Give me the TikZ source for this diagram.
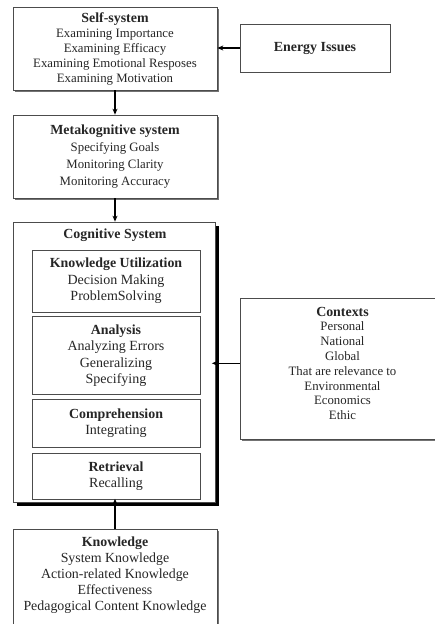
\documentclass[tikz,border=0pt]{standalone}
\usepackage{fontspec}
\setmainfont{Liberation Serif}
\usetikzlibrary{arrows.meta, positioning, shadows}

\newcommand{\head}[1]{{\fontsize{13.9}{16}\selectfont\bfseries #1}}

\begin{document}
\begin{tikzpicture}[
  x=1pt, y=-1pt,
  node distance=4pt,
  box/.style={draw=black!70, line width=0.7pt, fill=white, align=center, inner sep=0pt, text=black!85},
  shadowbox/.style={box, drop shadow={shadow xshift=1.6pt, shadow yshift=-1.6pt, fill=black!55, opacity=1}},
  heavybox/.style={box, drop shadow={shadow xshift=3.5pt, shadow yshift=-3.5pt, fill=black, opacity=1}},
  innerbox/.style={box, minimum width=168pt, font=\fontsize{14}{16.5}\selectfont},
  title/.style={font=\fontsize{13.9}{16}\selectfont\bfseries, text=black!85},
  arrow/.style={-{Stealth[length=6pt, width=5pt]}, line width=1.3pt},
]
\useasboundingbox (0,0) rectangle (435,624);
\clip (0,0) rectangle (435,624);

% Top of the hierarchy
\node[shadowbox, minimum width=204pt, minimum height=83pt, font=\fontsize{12.8}{15}\selectfont] (self) at (115,48.5)
  {\head{Self-system}\\ Examining Importance\\ Examining Efficacy\\ Examining Emotional Resposes\\ Examining Motivation};
\node[box, minimum width=150pt, minimum height=48pt, title] (energy) at (315,48) {Energy Issues};

\node[shadowbox, minimum width=204pt, minimum height=83pt, font=\fontsize{12.8}{17}\selectfont] (meta) at (115,156.5)
  {\head{Metakognitive system}\\ Specifying Goals\\ Monitoring Clarity\\ Monitoring Accuracy};

% Cognitive system with its four levels
\node[heavybox, minimum width=202pt, minimum height=280pt] (cog) at (114,362) {};
\node[title] (cogtitle) at (115,235) {Cognitive System};
\node[innerbox, minimum height=62pt] (util) at (116,281) {\head{Knowledge Utilization}\\ Decision Making\\ ProblemSolving};
\node[innerbox, minimum height=78pt, below=of util] (analysis) {\head{Analysis}\\ Analyzing Errors\\ Generalizing\\ Specifying};
\node[innerbox, minimum height=48pt, below=of analysis] (compr) {\head{Comprehension}\\ Integrating};
\node[innerbox, minimum height=46pt, below=5pt of compr] (retr) {\head{Retrieval}\\ Recalling};

% Contexts
\node[shadowbox, minimum width=205pt, minimum height=141pt] (ctx) at (342.5,368.5) {};
\node[align=center, text=black!85, font=\fontsize{12.8}{14.8}\selectfont] (ctxtext) at (342.5,363.3)
  {\head{Contexts}\\ Personal\\ National\\ Global\\ That are relevance to\\ Environmental\\ Economics\\ Ethic};

% Knowledge
\node[shadowbox, minimum width=204pt, minimum height=110pt, anchor=north] (know) at (115,529) {};
\node[align=center, text=black!85, font=\fontsize{13.9}{16}\selectfont] (knowtext) at (115,575)
  {\head{Knowledge}\\ System Knowledge\\ Action-related Knowledge\\ Effectiveness\\ Pedagogical Content Knowledge};

% Arrows
\draw[arrow] (energy.west) -- (energy.west -| self.east);
\draw[arrow] (self.south) -- (meta.north);
\draw[arrow] (meta.south) -- (meta.south |- cog.north);
\draw[arrow, shorten >=-3.5pt] (know.north) -- (know.north |- cog.south);
\draw[arrow, shorten >=-3.5pt] (ctx.west |- ctxtext.center) -- (ctxtext.center -| cog.east);
\end{tikzpicture}
\end{document}
